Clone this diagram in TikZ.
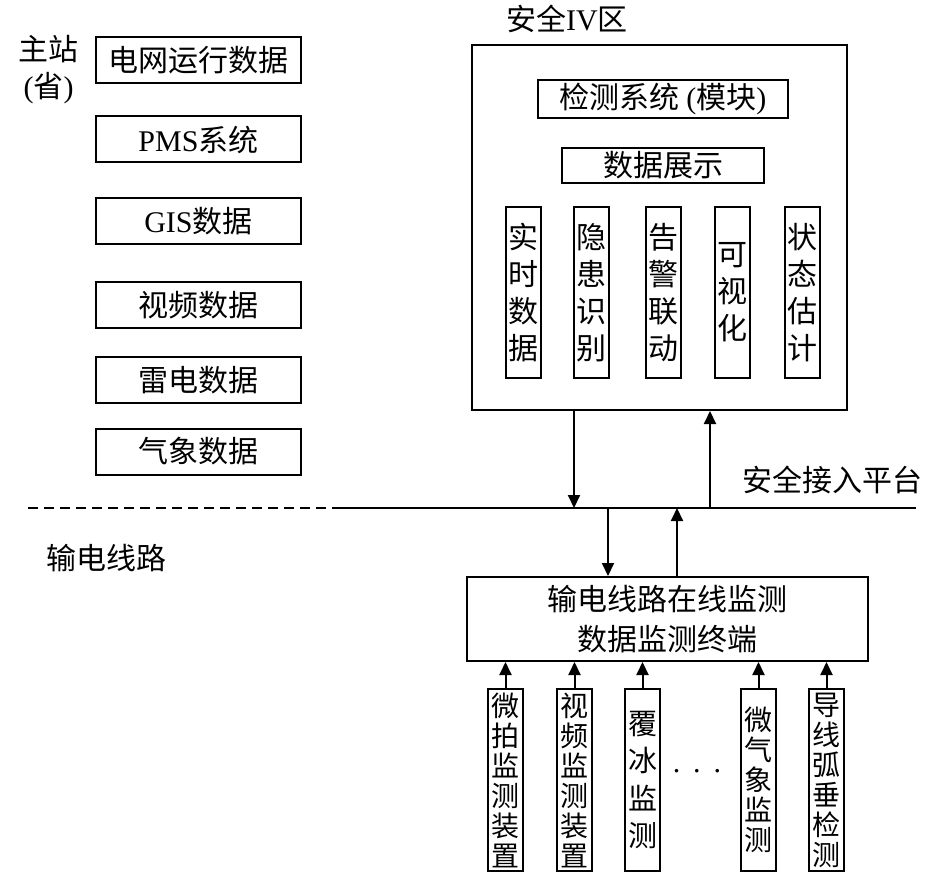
\documentclass[tikz,border=0pt]{standalone}
\usepackage{fontspec}
\setmainfont{Liberation Serif}
\newfontfamily\cjk{Noto Sans CJK SC}
\usetikzlibrary{arrows.meta}
\newcommand\latn[1]{{\rmfamily #1}}
\begin{document}
\begin{tikzpicture}[x=1pt,y=-1pt,
  every node/.style={inner sep=0pt, align=center, font=\cjk\fontsize{30}{37}\selectfont},
  box/.style={draw, line width=2pt},
  vbox/.style={box, minimum width=35pt, minimum height=171pt},
  lbox/.style={box, minimum width=205pt, minimum height=46pt},
  sbox/.style={box, minimum width=35pt, minimum height=182pt, font=\cjk\fontsize{28}{30}\selectfont},
  sboxw/.style={box, minimum width=35pt, minimum height=182pt, font=\cjk\fontsize{29}{37.5}\selectfont},
  arr/.style={line width=2pt, -{Triangle[length=13pt,width=12pt]}},
  ln/.style={line width=2pt}]
\useasboundingbox (0,0) rectangle (945,874);

% left column
\node (zz) at (48.5,70) {主站\\\latn{(}省\latn{)}};
\node[lbox] (d1) at (198.5,60.5) {电网运行数据};
\node[lbox] (d2) at (198.5,139.5) {\latn{PMS}系统};
\node[lbox] (d3) at (198.5,221.5) {\latn{GIS}数据};
\node[lbox] (d4) at (198.5,305) {视频数据};
\node[lbox] (d5) at (198.5,380) {雷电数据};
\node[lbox] (d6) at (198.5,451.5) {气象数据};

% safety zone IV
\node (zt) at (567,19) {安全\latn{IV}区};
\node[box, minimum width=375pt, minimum height=365pt] (big) at (659.5,227.5) {};
\node[box, minimum width=250pt, minimum height=38pt] (det) at (663,99) {检测系统 \latn{(}模块\latn{)}};
\node[box, minimum width=202pt, minimum height=35pt] (disp) at (663,165.5) {数据展示};
\node[vbox] (v1) at (523.5,292.5) {实\\时\\数\\据};
\node[vbox] (v2) at (591.5,292.5) {隐\\患\\识\\别};
\node[vbox] (v3) at (663,292.5) {告\\警\\联\\动};
\node[vbox] (v4) at (732.5,292.5) {可\\视\\化};
\node[vbox] (v5) at (802.5,292.5) {状\\态\\估\\计};

% platform line
\coordinate (la) at (28,508);
\coordinate (lb) at (333,508);
\coordinate (lc) at (916,508);
\draw[ln, dash pattern=on 10pt off 6pt] (la) -- (lb);
\draw[ln] (lb) -- (lc);
\node (plat) at (832,480) {安全接入平台};
\node (tl) at (106,558) {输电线路};

\coordinate (p1) at (574,508);
\coordinate (p2) at (710,508);
\coordinate (p3) at (608,508);
\coordinate (p4) at (677,508);
\draw[arr] (big.south -| p1) -- (p1);
\draw[arr] (p2) -- (big.south -| p2);

% terminal
\node[box, minimum width=401pt, minimum height=84pt, font=\cjk\fontsize{30}{40}\selectfont] (term) at (667.5,619) {输电线路在线监测\\数据监测终端};
\draw[arr] (p3) -- (term.north -| p3);
\draw[arr] (term.north -| p4) -- (p4);

% sensors
\node[sbox] (s1) at (505.5,780) {微\\拍\\监\\测\\装\\置};
\node[sbox] (s2) at (574.5,780) {视\\频\\监\\测\\装\\置};
\node[sboxw] (s3) at (642.5,780) {覆\\冰\\监\\测};
\node[sbox] (s4) at (758.5,780) {微\\气\\象\\监\\测};
\node[sbox] (s5) at (826.5,780) {导\\线\\弧\\垂\\检\\测};
\node[font=\rmfamily\fontsize{30}{30}\selectfont] (dots) at (697,771) {.\hspace{13pt}.\hspace{13pt}.};
\foreach \s in {s1,s2,s3,s4,s5}{
  \draw[arr] (\s.north) -- (term.south -| \s.north);
}
\end{tikzpicture}
\end{document}
